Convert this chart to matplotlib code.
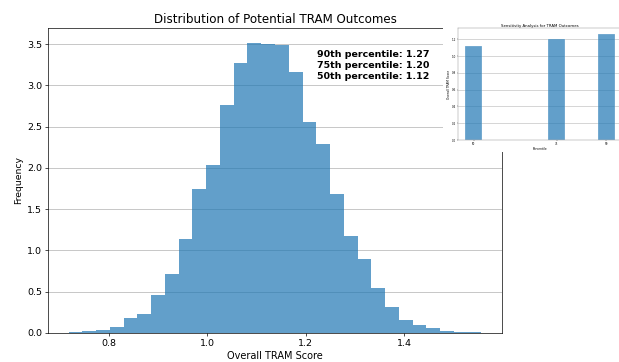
import numpy as np
import matplotlib
matplotlib.use("Agg")
import matplotlib.pyplot as plt
from matplotlib.patches import Rectangle

# ---- data ----
hist_range = (0.719, 1.557)
n_bins = 30
density = [0.012, 0.030, 0.035, 0.070, 0.180, 0.230, 0.455, 0.720, 1.140, 1.740,
           2.040, 2.765, 3.277, 3.520, 3.507, 3.495, 3.160, 2.560, 2.290, 1.680,
           1.180, 0.900, 0.548, 0.318, 0.155, 0.097, 0.057, 0.024, 0.010, 0.010]
pct_levels = [50, 75, 90]
pct_scores = [1.12, 1.20, 1.27]
pct_labels = ["90th percentile: 1.27", "75th percentile: 1.20", "50th percentile: 1.12"]

W, H = 619, 362
fig = plt.figure(figsize=(10, H / 61.9), dpi=61.9)

ax = fig.add_axes([48 / W, 29 / H, 454 / W, 305 / H])
edges = np.linspace(hist_range[0], hist_range[1], n_bins + 1)
centers = (edges[:-1] + edges[1:]) / 2
ax.hist(centers, bins=edges, weights=density, color="#1f77b4", alpha=0.7)
ax.set_title("Distribution of Potential TRAM Outcomes", fontsize=13.8)
ax.set_xlabel("Overall TRAM Score", fontsize=11.3)
ax.set_ylabel("Frequency", fontsize=10.8)
ax.tick_params(labelsize=11)
ax.grid(axis="y")
ax.set_axisbelow(True)
ax.text(0.592, 0.928, "\n".join(pct_labels), transform=ax.transAxes,
        ha="left", va="top", fontsize=11, fontweight="bold", linespacing=1.3)

# white patch behind the inset
fig.patches.append(Rectangle((443 / W, (H - 152) / H), (W - 443) / W, 142 / H,
                             transform=fig.transFigure, facecolor="white",
                             edgecolor="none", zorder=1))

iax = fig.add_axes([458 / W, (H - 140) / H, 164 / W, 111.7 / H], zorder=2)
iax.bar(pct_levels, pct_scores, width=5, color="#1f77b4", alpha=0.7,
        edgecolor="white", linewidth=0.4)
iax.set_xticks(pct_levels)
iax.set_title("Sensitivity Analysis for TRAM Outcomes", fontsize=4.5, pad=2)
iax.set_xlabel("Percentile", fontsize=3.5, labelpad=1)
iax.set_ylabel("Overall TRAM Score", fontsize=3.5, labelpad=1)
iax.tick_params(labelsize=3.2, length=1.5, width=0.4, pad=1)
iax.grid(axis="y", linewidth=0.6)
iax.set_axisbelow(True)
for s in iax.spines.values():
    s.set_linewidth(0.5)
    s.set_color("#888888")

fig.savefig("out.png", dpi=61.9)
